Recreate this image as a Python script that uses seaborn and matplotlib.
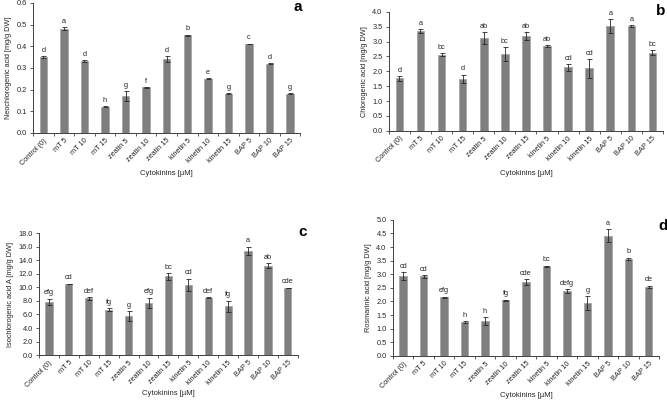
import matplotlib
matplotlib.use("Agg")
import matplotlib.pyplot as plt
import numpy as np
import seaborn as sns
from matplotlib.ticker import FormatStrFormatter, FixedLocator

sns.set_style("white")
plt.rcParams['font.family'] = ['Liberation Sans', 'DejaVu Sans']

# categories on the x axis
treatments = ["Control (0)", "mT 5", "mT 10", "mT 15", "zeatin 5", "zeatin 10",
              "zeatin 15", "kinetin 5", "kinetin 10", "kinetin 15", "BAP 5",
              "BAP 10", "BAP 15"]

# a - neochlorogenic acid
neo_mean = [0.35, 0.48, 0.33, 0.12, 0.17, 0.21, 0.34, 0.45, 0.25, 0.18, 0.41, 0.32, 0.18]
neo_err = [0.005, 0.007, 0.005, 0.002, 0.022, 0.002, 0.013, 0.003, 0.002, 0.002, 0.002, 0.002, 0.002]
neo_letters = ["d", "a", "d", "h", "g", "f", "d", "b", "e", "g", "c", "d", "g"]

# b - chlorogenic acid
chl_mean = [1.77, 3.35, 2.56, 1.75, 3.13, 2.58, 3.19, 2.85, 2.13, 2.10, 3.51, 3.52, 2.63]
chl_err = [0.08, 0.06, 0.04, 0.14, 0.20, 0.24, 0.14, 0.02, 0.12, 0.32, 0.24, 0.02, 0.09]
chl_letters = ["d", "a", "bc", "d", "ab", "bc", "ab", "ab", "cd", "cd", "a", "a", "bc"]

# c - isochlorogenic acid A
iso_mean = [7.9, 10.5, 8.4, 6.7, 5.8, 7.7, 11.6, 10.4, 8.5, 7.2, 15.4, 13.2, 9.9]
iso_err = [0.45, 0.05, 0.2, 0.25, 0.75, 0.8, 0.55, 0.9, 0.05, 0.85, 0.6, 0.4, 0.05]
iso_letters = ["efg", "cd", "def", "fg", "g", "efg", "bc", "cd", "def", "fg", "a", "ab", "cde"]

# d - rosmarinic acid
ros_mean = [2.92, 2.92, 2.16, 1.25, 1.28, 2.04, 2.72, 3.30, 2.38, 1.94, 4.42, 3.56, 2.54]
ros_err = [0.15, 0.04, 0.02, 0.03, 0.14, 0.02, 0.10, 0.02, 0.07, 0.26, 0.23, 0.05, 0.04]
ros_letters = ["cd", "cd", "efg", "h", "h", "fg", "cde", "bc", "defg", "g", "a", "b", "de"]

panels = [
    dict(rect=[0.0495, 0.671, 0.401, 0.322], mean=neo_mean, err=neo_err, letters=neo_letters,
         ylabel="Neochlorogenic acid [mg/g DW]", ymax=0.6, step=0.1, tag="a",
         tagpos=(0.4405, 0.973), xlab_y=0.562),
    dict(rect=[0.583, 0.676, 0.411, 0.295], mean=chl_mean, err=chl_err, letters=chl_letters,
         ylabel="Chlorogenic acid [mg/g DW]", ymax=4.0, step=0.5, tag="b",
         tagpos=(0.984, 0.963), xlab_y=0.562),
    dict(rect=[0.0585, 0.121, 0.388, 0.302], mean=iso_mean, err=iso_err, letters=iso_letters,
         ylabel="Isochlorogenic acid A [mg/g DW]", ymax=18.0, step=2.0, tag="c",
         tagpos=(0.448, 0.416), xlab_y=0.017),
    dict(rect=[0.589, 0.119, 0.399, 0.337], mean=ros_mean, err=ros_err, letters=ros_letters,
         ylabel="Rosmarinic acid [mg/g DW]", ymax=5.0, step=0.5, tag="d",
         tagpos=(0.987, 0.431), xlab_y=0.012),
]

fig = plt.figure(figsize=(6.67, 4.04), dpi=100)

for p in panels:
    ax = fig.add_axes(p["rect"])
    sns.barplot(x=treatments, y=p["mean"], color="#7f7f7f", edgecolor="#a5a5a5",
                linewidth=0.6, width=0.36, saturation=1, errorbar=None, ax=ax)
    xs = np.arange(len(treatments))
    ax.errorbar(xs, p["mean"], yerr=p["err"], fmt="none", ecolor="#262626",
                elinewidth=0.6, capsize=1.8, capthick=0.6)
    off = p["ymax"] * 0.018
    for x, m, e, lab in zip(xs, p["mean"], p["err"], p["letters"]):
        ax.text(x, m + e + off, lab, ha="center", va="bottom", fontsize=5.3, color="#262626")

    ax.set_xlim(-0.5, len(treatments) - 0.5)
    ax.set_ylim(0, p["ymax"])
    ax.set_yticks(np.arange(0, p["ymax"] + p["step"] / 2, p["step"]))
    ax.yaxis.set_major_formatter(FormatStrFormatter("%.1f"))
    ax.set_xticks(xs)
    ax.set_xticklabels(treatments, rotation=45, ha="right", rotation_mode="anchor")
    ax.xaxis.set_minor_locator(FixedLocator(np.arange(-0.5, len(treatments), 1.0)))
    ax.tick_params(axis="x", which="major", length=0, pad=3, labelsize=5.3, colors="#262626")
    ax.tick_params(axis="x", which="minor", length=2.5, width=0.6, color="#404040", direction="out", bottom=True)
    ax.tick_params(axis="y", length=2.5, width=0.6, color="#404040", direction="out",
                   left=True, labelsize=5.3, labelcolor="#262626", pad=2)
    sns.despine(ax=ax)
    for s in ("left", "bottom"):
        ax.spines[s].set_color("#404040")
        ax.spines[s].set_linewidth(0.7)
    ax.set_ylabel(p["ylabel"], fontsize=5.3, color="#262626", labelpad=3)
    ax.set_xlabel("")
    fig.text(p["rect"][0] + p["rect"][2] / 2, p["xlab_y"], "Cytokinins [\u00b5M]",
             ha="center", va="bottom", fontsize=5.5, color="#262626")
    fig.text(p["tagpos"][0], p["tagpos"][1], p["tag"],
             ha="left", va="baseline", fontsize=11, fontweight="bold", color="black")

fig.savefig("out.png", dpi=100)
